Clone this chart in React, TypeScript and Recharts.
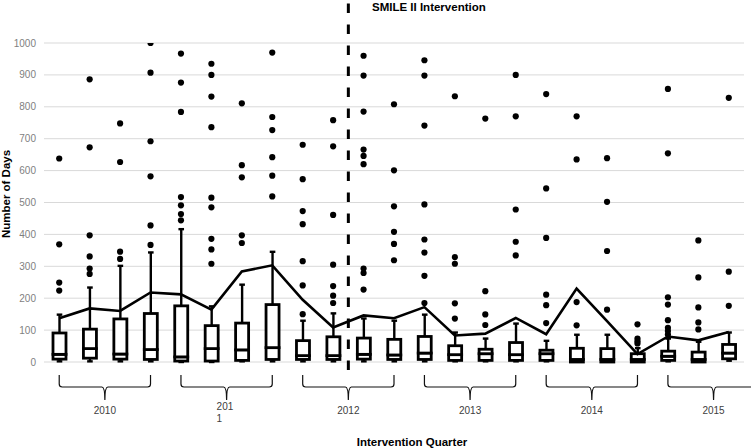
import React from 'react';
import { ComposedChart, Bar, Line, XAxis, YAxis, CartesianGrid, ReferenceLine } from 'recharts';

const quarters = [
  '2010 Q1', '2010 Q2', '2010 Q3', '2010 Q4',
  '2011 Q1', '2011 Q2', '2011 Q3', '2011 Q4',
  '2012 Q1', '2012 Q2', '2012 Q3', '2012 Q4',
  '2013 Q1', '2013 Q2', '2013 Q3', '2013 Q4',
  '2014 Q1', '2014 Q2', '2014 Q3', '2014 Q4',
  '2015 Q1', '2015 Q2', '2015 Q3',
];
const yearLabels = ['2010', '201\n1', '2012', '2013', '2014', '2015'];

const whiskerLow = [2, 2, 2, 2, 0, 0, 2, 2, 2, 2, 2, 2, 2, 2, 2, 2, 2, 0, 0, 0, 2, 0, 4];
const q1 = [9, 12, 9, 8, 3, 3, 5, 8, 8, 8, 9, 8, 8, 5, 5, 5, 5, 0, 0, 0, 5, 0, 10];
const median = [24, 42, 25, 39, 16, 42, 38, 45, 20, 20, 24, 22, 28, 23, 26, 23, 26, 8, 8, 8, 18, 8, 28];
const q3 = [91, 103, 135, 152, 176, 114, 122, 180, 67, 79, 75, 71, 80, 51, 40, 61, 37, 43, 42, 26, 34, 31, 55];
const whiskerHigh = [150, 235, 303, 345, 418, 176, 244, 347, 131, 154, 138, 131, 150, 94, 75, 122, 68, 87, 87, 45, 75, 65, 94];
const means = [137, 168, 160, 218, 212, 164, 284, 303, 195, 108, 146, 137, 172, 83, 89, 138, 87, 230, 128, 25, 80, 68, 94];
const outliers = [
  [224, 249, 369, 638],
  [276, 293, 331, 397, 673, 886],
  [323, 346, 627, 748, 1010],
  [367, 428, 582, 692, 907, 1000],
  [444, 464, 491, 517, 784, 876, 967],
  [308, 353, 386, 485, 515, 736, 832, 900, 935],
  [373, 397, 579, 617, 811],
  [519, 584, 642, 727, 768, 970],
  [150, 240, 316, 432, 473, 573, 681],
  [185, 208, 238, 305, 461, 676, 758],
  [227, 279, 293, 620, 646, 666, 785, 898, 960],
  [319, 370, 408, 488, 601, 808],
  [185, 270, 343, 384, 494, 741, 898, 946],
  [136, 184, 308, 329, 833],
  [116, 149, 222, 763],
  [334, 377, 478, 770, 900, 1010],
  [122, 178, 211, 389, 544, 840],
  [115, 188, 635, 770],
  [164, 348, 502, 639],
  [58, 65, 73, 118],
  [86, 97, 107, 131, 180, 203, 654, 856],
  [102, 124, 171, 265, 381],
  [176, 283, 828],
];
const yTicks = [0, 100, 200, 300, 400, 500, 600, 700, 800, 900, 1000];
const interventionQuarter = '2012 Q3';

const W = 751;
const H = 448;
const MARGIN = { top: 43, right: 7, left: 0, bottom: 0 };
const Y_AXIS_W = 44;
const PLOT_W = W - MARGIN.left - MARGIN.right - Y_AXIS_W;
const FONT = '"Liberation Sans", Arial, sans-serif';

const maxOut = Math.max(...outliers.map((o) => o.length));
const data = quarters.map((q, i) => {
  const row: Record<string, any> = {
    q,
    base: whiskerLow[i],
    lw: q1[i] - whiskerLow[i],
    lb: median[i] - q1[i],
    ub: q3[i] - median[i],
    uw: whiskerHigh[i] - q3[i],
    mean: means[i],
  };
  outliers[i].forEach((v, k) => {
    row['o' + k] = v;
  });
  return row;
});

const EmptyShape = () => null;

const BoxShape = (p: any) => {
  const { x, y, width, height } = p;
  if (![x, y, width, height].every((v) => typeof v === 'number' && !isNaN(v))) return null;
  return (
    <rect x={x} y={y} width={width} height={Math.max(height, 0)} fill="#fff" stroke="#000" strokeWidth={2.8} />
  );
};

const LowerWhisker = (p: any) => {
  const { x, y, width, height } = p;
  if (!(height > 0.3)) return null;
  const cx = x + width / 2;
  const b = y + height;
  return (
    <g>
      <line x1={cx} x2={cx} y1={y} y2={b} stroke="#000" strokeWidth={2.4} />
      <line x1={cx - 2.8} x2={cx + 2.8} y1={b} y2={b} stroke="#000" strokeWidth={2.4} />
    </g>
  );
};

const UpperWhisker = (p: any) => {
  const { x, y, width, height } = p;
  if (!(height > 0.3)) return null;
  const cx = x + width / 2;
  return (
    <g>
      <line x1={cx} x2={cx} y1={y} y2={y + height} stroke="#000" strokeWidth={2.4} />
      <line x1={cx - 2.8} x2={cx + 2.8} y1={y + 0.5} y2={y + 0.5} stroke="#000" strokeWidth={2.4} />
    </g>
  );
};

const YearTick = (props: any) => {
  const { x, y, payload } = props;
  const i = quarters.indexOf(payload.value);
  if (i < 0 || i % 4 !== 1) return null;
  const band = PLOT_W / quarters.length;
  const cx = x + band / 2;
  const half = band * 1.5;
  const x0 = cx - half;
  const x1 = cx + half;
  const top = y + 5;
  const mid = y + 17;
  const tip = y + 30;
  const label = yearLabels[(i - 1) / 4];
  const lines = label.split('\n');
  const d =
    `M${x0},${top} L${x0},${mid - 3} Q${x0},${mid} ${x0 + 3},${mid} L${cx - 3},${mid} Q${cx},${mid} ${cx},${tip} ` +
    `M${x1},${top} L${x1},${mid - 3} Q${x1},${mid} ${x1 - 3},${mid} L${cx + 3},${mid} Q${cx},${mid} ${cx},${tip}`;
  return (
    <g>
      <path d={d} fill="none" stroke="#111" strokeWidth={1.2} />
      {lines.map((ln, k) => (
        <text
          key={k}
          x={lines.length > 1 ? cx - 10 : cx}
          y={lines.length > 1 ? y + 40 + k * 11.5 : y + 44}
          textAnchor={lines.length > 1 ? 'start' : 'middle'}
          fontSize={10}
          fontFamily={FONT}
          fill="#404040"
        >
          {ln}
        </text>
      ))}
    </g>
  );
};

export default function App() {
  return (
    <div style={{ position: 'absolute', left: 0, top: 0, width: W, height: H, background: '#fff' }}>
      <ComposedChart width={W} height={H} data={data} margin={MARGIN} barSize={13}>
        <CartesianGrid vertical={false} stroke="#d9d9d9" strokeWidth={1} />
        <XAxis
          dataKey="q"
          type="category"
          interval={0}
          tickLine={false}
          axisLine={false}
          height={86}
          tick={<YearTick />}
        />
        <YAxis
          domain={[0, 1000]}
          ticks={yTicks}
          width={Y_AXIS_W}
          tickLine={false}
          axisLine={false}
          tick={{ fontSize: 10, fill: '#7f7f7f', fontFamily: FONT }}
        />
        <YAxis yAxisId="out" hide domain={[0, 1000]} allowDataOverflow />
        <Bar dataKey="base" stackId="box" shape={EmptyShape} isAnimationActive={false} />
        <Bar dataKey="lw" stackId="box" shape={LowerWhisker} isAnimationActive={false} />
        <Bar dataKey="lb" stackId="box" shape={BoxShape} isAnimationActive={false} />
        <Bar dataKey="ub" stackId="box" shape={BoxShape} isAnimationActive={false} />
        <Bar dataKey="uw" stackId="box" shape={UpperWhisker} isAnimationActive={false} />
        <Line
          dataKey="mean"
          type="linear"
          stroke="#000"
          strokeWidth={2.6}
          dot={false}
          activeDot={false}
          isAnimationActive={false}
        />
        {Array.from({ length: maxOut }, (_, k) => (
          <Line
            key={k}
            yAxisId="out"
            dataKey={'o' + k}
            stroke="none"
            dot={{ r: 3.1, fill: '#000', stroke: '#000', strokeWidth: 0 }}
            activeDot={false}
            isAnimationActive={false}
            legendType="none"
          />
        ))}
        <ReferenceLine
          segment={[
            { x: interventionQuarter, y: -25 },
            { x: interventionQuarter, y: 1135 },
          ]}
          position="start"
          ifOverflow="visible"
          stroke="#000"
          strokeWidth={3}
          strokeDasharray="9.5 11.5"
        />
      </ComposedChart>
      <svg
        width={W}
        height={H}
        style={{ position: 'absolute', left: 0, top: 0, pointerEvents: 'none' }}
      >
        <text x={372} y={10.5} fontSize={11.5} fontWeight="bold" fontFamily={FONT} fill="#000">
          SMILE II Intervention
        </text>
        <text x={412} y={446} fontSize={11.5} fontWeight="bold" fontFamily={FONT} fill="#000" textAnchor="middle">
          Intervention Quarter
        </text>
        <text
          x={0}
          y={0}
          transform="translate(9.8,194) rotate(-90)"
          fontSize={11.5}
          fontWeight="bold"
          fontFamily={FONT}
          fill="#000"
          textAnchor="middle"
        >
          Number of Days
        </text>
      </svg>
    </div>
  );
}
